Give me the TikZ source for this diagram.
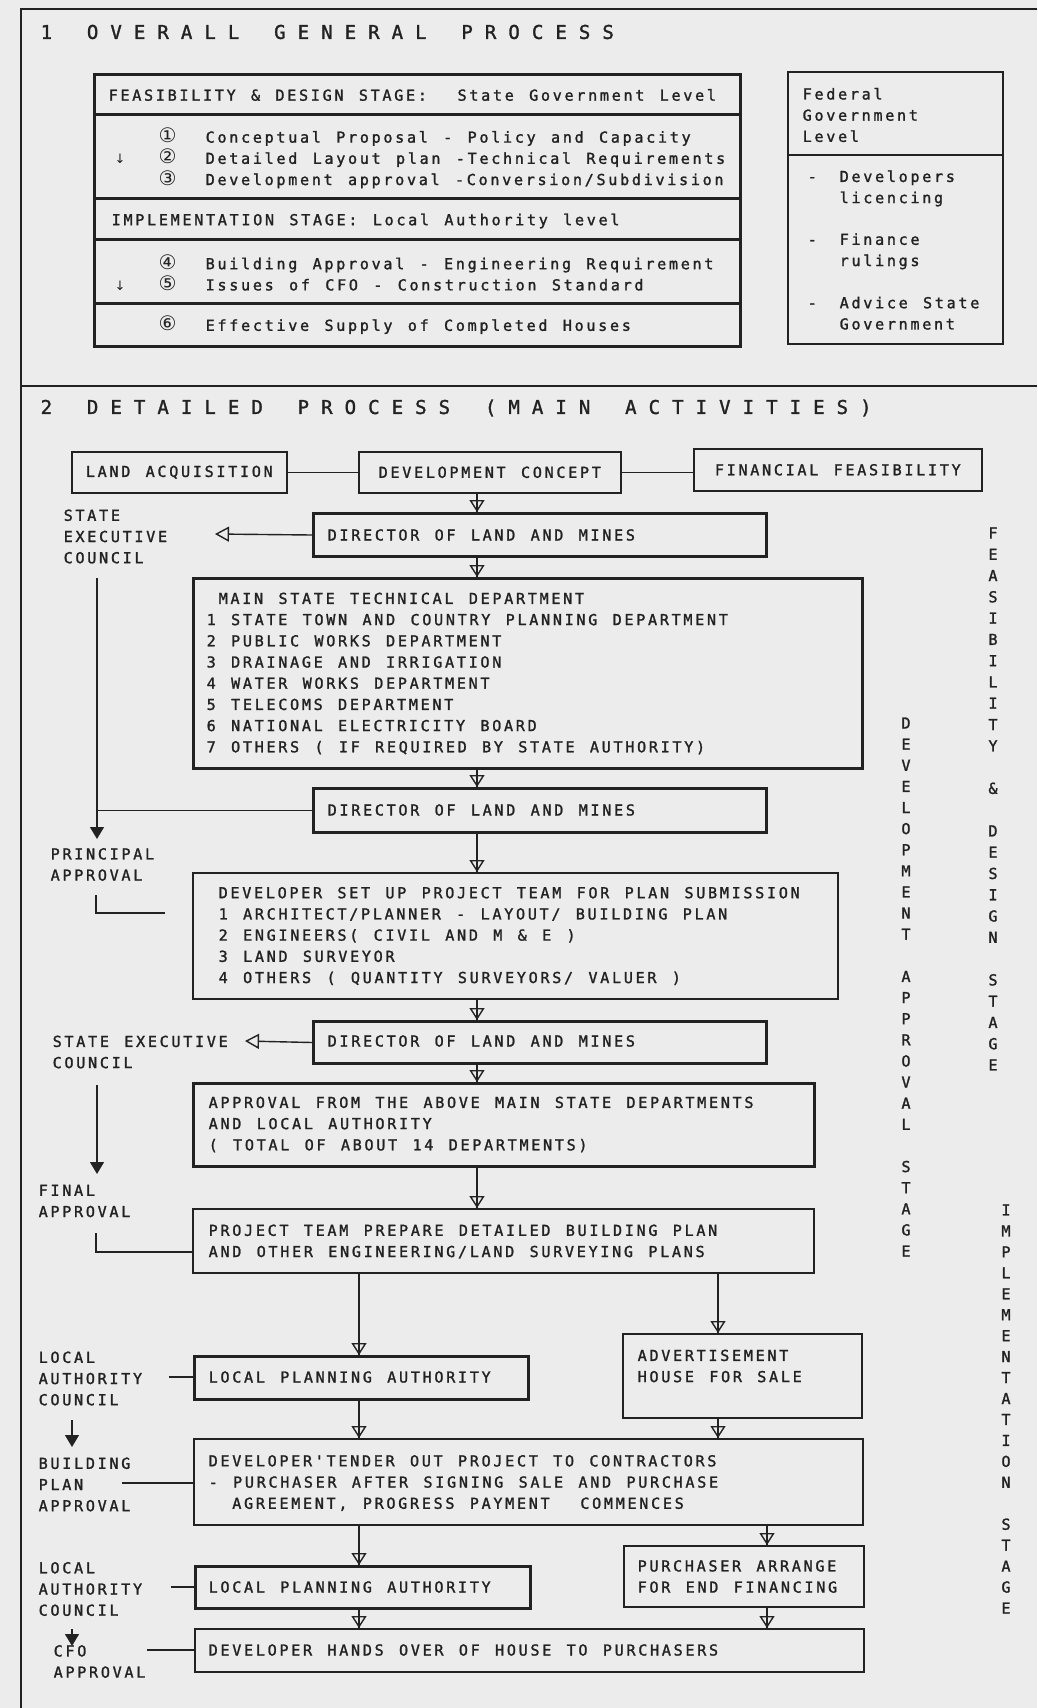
\documentclass[tikz,border=0pt]{standalone}
\usepackage{fontspec}
\usepackage{tikz}
\usetikzlibrary{arrows.meta}
\newfontfamily\plotfont{DejaVu Sans Mono}[LetterSpace=17.9,WordSpace=1.30,FakeBold=1.5]
\newfontfamily\headfont{DejaVu Sans Mono}[LetterSpace=63.5,WordSpace=1.48,FakeBold=1.5]
\newfontfamily\circfont{DejaVu Sans}
\definecolor{ink}{HTML}{222222}
\definecolor{paper}{HTML}{ECECEC}
\newcommand{\plotsize}{\plotfont\fontsize{15.1pt}{21.2pt}\selectfont}
\newcommand{\headsize}{\headfont\fontsize{19pt}{22pt}\selectfont}
\newcommand{\circsize}{\circfont\fontsize{20pt}{21.2pt}\selectfont}
\newcommand{\arrsize}{\circfont\fontsize{13pt}{21.2pt}\selectfont}
\newcommand{\circnum}[1]{\makebox[44pt][l]{}\makebox[47pt][l]{\circsize #1}}
\newcommand{\circdown}[1]{\makebox[44pt][l]{\arrsize ↓}\makebox[47pt][l]{\circsize #1}}

\begin{document}
\begin{tikzpicture}[x=1pt,y=-1pt,ink,line width=1.4pt,
   every node/.style={font=\plotsize,text=ink,inner sep=0pt},
   box/.style n args={3}{draw,line width=#1,anchor=north west,minimum width=#2pt,minimum height=#3pt},
   txt/.style={anchor=west,align=left},
   head/.style={anchor=west,font=\headsize},
   flow/.style={postaction={draw,-{Triangle[open,length=12pt,width=15pt,line width=1.4pt]}}},
   sidearrow/.style={-{Triangle[open,length=14pt,width=15pt,line width=1.4pt]}},
   approve/.style={-{Triangle[length=12pt,width=14pt]}}]
\useasboundingbox (0,0) rectangle (1037,1708);
\fill[paper] (0,0) rectangle (1037,1708);
\draw (1037,9) -- (21,9) -- (21,1708);
\draw (21,386) -- (1037,386);

\node[head] (ttl1) at (40,32) {1 OVERALL GENERAL PROCESS};
\node[box={3pt}{646}{40}] (fsd) at (93,73) {};
\node[box={3pt}{646}{84}] (fsdl) at (93,113) {};
\node[box={3pt}{646}{41}] (imp) at (93,197) {};
\node[box={3pt}{646}{64}] (impl) at (93,238) {};
\node[box={3pt}{646}{43}] (sup) at (93,302) {};
\node[txt] (fsdtx) at (108,95) {FEASIBILITY \& DESIGN STAGE:~ State Government Level};
\node[txt] (fsdltx) at (114,158) {\circnum{①}Conceptual Proposal - Policy and Capacity\\
   \circdown{②}Detailed Layout plan -Technical Requirements\\
   \circnum{③}Development approval -Conversion/Subdivision};
\node[txt] (imptx) at (111,221) {IMPLEMENTATION STAGE: Local Authority level};
\node[txt] (impltx) at (114,272.5) {\circnum{④}Building Approval - Engineering Requirement\\
   \circdown{⑤}Issues of CFO - Construction Standard};
\node[txt] (suptx) at (114,325) {\circnum{⑥}Effective Supply of Completed Houses};
\node[box={1.6pt}{215}{83}] (fed) at (787,71) {};
\node[box={1.6pt}{215}{189}] (fedl) at (787,154) {};
\node[txt] (fedtx) at (802,115) {Federal\\Government\\Level};
\node[txt] (fedltx) at (807,250) {\makebox[32pt][l]{-}Developers\\\hspace*{32pt}licencing\\[20.5pt]
   \makebox[32pt][l]{-}Finance\\\hspace*{32pt}rulings\\[21pt]
   \makebox[32pt][l]{-}Advice State\\\hspace*{32pt}Government};

\node[head] (ttl2) at (40,408) {2 DETAILED PROCESS (MAIN ACTIVITIES)};
\coordinate (spine) at (477,0);
\coordinate (lspine) at (359,0);
\coordinate (rspine) at (718,0);
\coordinate (pspine) at (767,0);
\node[box={1.6pt}{215}{41}] (land) at (71,451) {LAND ACQUISITION};
\node[box={1.6pt}{262}{41}] (concept) at (358,451) {DEVELOPMENT CONCEPT};
\node[box={1.6pt}{288}{42}] (fin) at (693,448) {FINANCIAL FEASIBILITY};
\node[box={3pt}{453}{43}] (dir1) at (312,512) {};
\node[box={3pt}{669}{190}] (mst) at (192,577) {};
\node[box={3pt}{453}{44}] (dir2) at (312,787) {};
\node[box={1.6pt}{645}{126}] (dev) at (192,872) {};
\node[box={3pt}{453}{42}] (dir3) at (312,1020) {};
\node[box={3pt}{621}{83}] (appr) at (192,1082) {};
\node[box={1.6pt}{621}{64}] (prj) at (192,1208) {};
\node[box={3pt}{334}{43}] (lpa1) at (193,1355) {};
\node[box={1.6pt}{239}{84}] (adv) at (622,1333) {};
\node[box={1.6pt}{669}{86}] (tnd) at (193,1438) {};
\node[box={3pt}{335}{42}] (lpa2) at (194,1565) {};
\node[box={1.6pt}{240}{61}] (pur) at (623,1545) {};
\node[box={1.6pt}{669}{43}] (hnd) at (194,1628) {};

\node[txt] (dir1tx) at (327,535) {DIRECTOR OF LAND AND MINES};
\node[txt] (msttx) at (206,673.5) {\hspace*{12pt}MAIN STATE TECHNICAL DEPARTMENT\\
   1 STATE TOWN AND COUNTRY PLANNING DEPARTMENT\\2 PUBLIC WORKS DEPARTMENT\\
   3 DRAINAGE AND IRRIGATION\\4 WATER WORKS DEPARTMENT\\5 TELECOMS DEPARTMENT\\
   6 NATIONAL ELECTRICITY BOARD\\7 OTHERS ( IF REQUIRED BY STATE AUTHORITY)};
\node[txt] (dir2tx) at (327,810) {DIRECTOR OF LAND AND MINES};
\node[txt] (devtx) at (218,936) {DEVELOPER SET UP PROJECT TEAM FOR PLAN SUBMISSION\\
   1 ARCHITECT/PLANNER - LAYOUT/ BUILDING PLAN\\2 ENGINEERS( CIVIL AND M \& E )\\
   3 LAND SURVEYOR\\4 OTHERS ( QUANTITY SURVEYORS/ VALUER )};
\node[txt] (dir3tx) at (327,1041) {DIRECTOR OF LAND AND MINES};
\node[txt] (apprtx) at (208,1124.5) {APPROVAL FROM THE ABOVE MAIN STATE DEPARTMENTS\\
   AND LOCAL AUTHORITY\\( TOTAL OF ABOUT 14 DEPARTMENTS)};
\node[txt] (prjtx) at (208,1241.5) {PROJECT TEAM PREPARE DETAILED BUILDING PLAN\\
   AND OTHER ENGINEERING/LAND SURVEYING PLANS};
\node[txt] (lpa1tx) at (208,1377) {LOCAL PLANNING AUTHORITY};
\node[txt] (advtx) at (637,1366) {ADVERTISEMENT\\HOUSE FOR SALE};
\node[txt] (tndtx) at (208,1483) {DEVELOPER'TENDER OUT PROJECT TO CONTRACTORS\\
   - PURCHASER AFTER SIGNING SALE AND PURCHASE\\
   \hspace*{23.6pt}AGREEMENT, PROGRESS PAYMENT~ COMMENCES};
\node[txt] (lpa2tx) at (208,1587) {LOCAL PLANNING AUTHORITY};
\node[txt] (purtx) at (637,1576.5) {PURCHASER ARRANGE\\FOR END FINANCING};
\node[txt] (hndtx) at (208,1650) {DEVELOPER HANDS OVER OF HOUSE TO PURCHASERS};

\node[txt] (sec1) at (63,536.5) {STATE\\EXECUTIVE\\COUNCIL};
\node[txt] (pa) at (50,864.5) {PRINCIPAL\\APPROVAL};
\node[txt] (sec2) at (52,1052) {STATE EXECUTIVE\\COUNCIL};
\node[txt] (fa) at (38,1201) {FINAL\\APPROVAL};
\node[txt] (lac1) at (38,1378.5) {LOCAL\\AUTHORITY\\COUNCIL};
\node[txt] (bpa) at (38,1484.5) {BUILDING\\PLAN\\APPROVAL};
\node[txt] (lac2) at (38,1589) {LOCAL\\AUTHORITY\\COUNCIL};
\node[txt] (cfo) at (53,1661.5) {CFO\\APPROVAL};

\foreach \l [count=\i] in {D,E,V,E,L,O,P,M,E,N,T,{},A,P,P,R,O,V,A,L,{},S,T,A,G,E}
   \node (dev\i) at (906,701.9+21.12*\i) {\l};
\foreach \l [count=\i] in {F,E,A,S,I,B,I,L,I,T,Y,{},\&,{},D,E,S,I,G,N,{},S,T,A,G,E}
   \node (feas\i) at (993,511.7+21.28*\i) {\l};
\foreach \l [count=\i] in {I,M,P,L,E,M,E,N,T,A,T,I,O,N,{},S,T,A,G,E}
   \node (impl\i) at (1006,1189+20.95*\i) {\l};

\coordinate (ex1) at (215,534);
\coordinate (ex2) at (245,1041);
\coordinate (v1top) at (97,578);
\coordinate (v1tip) at (97,839);
\coordinate (pa1) at (96,895);
\coordinate (pa2) at (165,913);
\coordinate (v2top) at (97,1085);
\coordinate (v2tip) at (97,1174);
\coordinate (fa1) at (96,1233);
\coordinate (lac1e) at (169,1377);
\coordinate (bpae) at (122,1483);
\coordinate (lac2e) at (171,1587);
\coordinate (cfoe) at (147,1650);
\coordinate (d1top) at (72,1420);
\coordinate (d1tip) at (72,1447);
\coordinate (d2top) at (72,1629);
\coordinate (d2tip) at (72,1646);

\draw (land.east) -- (concept.west);
\draw (concept.east) -- (concept.east -| fin.west);
\draw[flow] (concept.south -| spine) -- (dir1.north -| spine);
\draw[sidearrow] (dir1.west) -- (ex1);
\draw[flow] (dir1.south -| spine) -- (mst.north -| spine);
\draw[flow] (mst.south -| spine) -- (dir2.north -| spine);
\draw[approve] (v1top) -- (v1tip);
\draw (dir2.west) -- (dir2.west -| v1top);
\draw[flow] (dir2.south -| spine) -- (dev.north -| spine);
\draw (pa1) |- (pa2);
\draw[flow] (dev.south -| spine) -- (dir3.north -| spine);
\draw[sidearrow] (dir3.west) -- (ex2);
\draw[flow] (dir3.south -| spine) -- (appr.north -| spine);
\draw[approve] (v2top) -- (v2tip);
\draw (fa1) |- ([yshift=-11pt]prj.west);
\draw[flow] (appr.south -| spine) -- (prj.north -| spine);
\draw[flow] (prj.south -| lspine) -- (lpa1.north -| lspine);
\draw[flow] (prj.south -| rspine) -- (adv.north -| rspine);
\draw (lac1e) -- (lac1e -| lpa1.west);
\draw[approve] (d1top) -- (d1tip);
\draw[flow] (lpa1.south -| lspine) -- (tnd.north -| lspine);
\draw[flow] (adv.south -| rspine) -- (tnd.north -| rspine);
\draw (bpae) -- (bpae -| tnd.west);
\draw[flow] (tnd.south -| lspine) -- (lpa2.north -| lspine);
\draw[flow] (tnd.south -| pspine) -- (pur.north -| pspine);
\draw (lac2e) -- (lac2e -| lpa2.west);
\draw[flow] (lpa2.south -| lspine) -- (hnd.north -| lspine);
\draw[flow] (pur.south -| pspine) -- (hnd.north -| pspine);
\draw[approve] (d2top) -- (d2tip);
\draw (cfoe) -- (cfoe -| hnd.west);
\end{tikzpicture}
\end{document}
